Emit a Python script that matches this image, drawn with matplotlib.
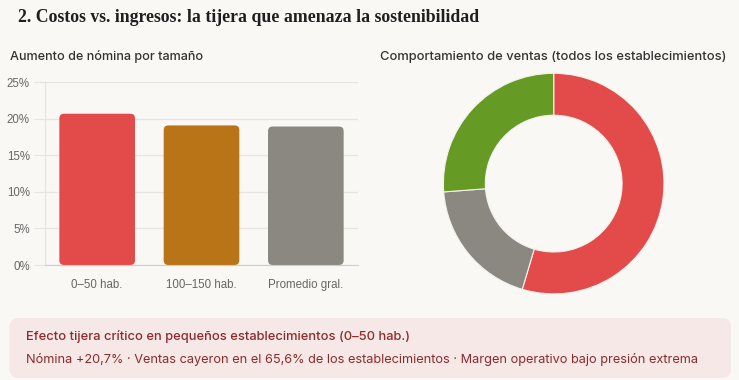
import matplotlib
matplotlib.use("Agg")
import matplotlib.pyplot as plt
from matplotlib.patches import FancyBboxPatch
from matplotlib.ticker import FuncFormatter

# Datos
categorias = ["0–50 hab.", "100–150 hab.", "Promedio gral."]
aumento_nomina = [20.7, 19.1, 18.95]
colores_barras = ["#e34b4b", "#b87417", "#8a8880"]

ventas_etiquetas = ["Bajaron", "Se mantuvieron", "Subieron"]
ventas_valores = [54.6, 19.2, 26.2]
colores_ventas = ["#e34b4b", "#8a8880", "#659a25"]

W, H = 739, 380
FONDO = "#f9f8f5"

fig = plt.figure(figsize=(W / 100, H / 100), dpi=100, facecolor=FONDO)

def px(x, y):
    return x / W, 1 - y / H

# Titulo general
fig.text(*px(18, 17), "2. Costos vs. ingresos: la tijera que amenaza la sostenibilidad",
         family="Liberation Serif", weight="bold", fontsize=12.8, color="#1f1f1f",
         va="center", ha="left")

# Subtitulos
fig.text(*px(10, 57), "Aumento de nómina por tamaño", family="Inter", weight="medium",
         fontsize=9.1, color="#333333", va="center", ha="left")
fig.text(*px(553, 57), "Comportamiento de ventas (todos los establecimientos)", family="Inter",
         weight="medium", fontsize=9.3, color="#333333", va="center", ha="center")

# Barras
ax = fig.add_axes([45 / W, 1 - 265 / H, (358 - 45) / W, (265 - 82.3) / H])
ax.set_facecolor(FONDO)
barras = ax.bar(range(len(categorias)), aumento_nomina, width=0.725, color=colores_barras)
ax.set_xlim(-0.5, 2.5)
ax.set_ylim(0, 25)
ax.set_yticks([0, 5, 10, 15, 20, 25])
ax.yaxis.set_major_formatter(FuncFormatter(lambda v, _: f"{v:.0f}%"))
ax.set_xticks(range(len(categorias)))
ax.set_xticklabels(categorias)
ax.grid(axis="y", color="#e6e4e0", linewidth=0.9)
ax.set_axisbelow(True)
for s in ["top", "right"]:
    ax.spines[s].set_visible(False)
ax.spines["left"].set_color("#e6e4e0")
ax.spines["bottom"].set_color("#cfcdc8")
ax.tick_params(axis="y", length=8, color="#e6e4e0", labelsize=8.3, labelcolor="#666666", pad=3)
ax.tick_params(axis="x", length=0, labelsize=8.3, labelcolor="#666666", pad=10)
for t in ax.get_xticklabels() + ax.get_yticklabels():
    t.set_family("Liberation Sans")

# esquinas redondeadas
asp = (25 / 182.7) / (3 / 313)
for b in barras:
    x0, y0 = b.get_x(), b.get_y()
    w, h = b.get_width(), b.get_height()
    b.set_visible(False)
    ax.add_patch(FancyBboxPatch((x0, y0), w, h,
                                boxstyle="round,pad=0,rounding_size=0.045",
                                mutation_aspect=asp, facecolor=b.get_facecolor(),
                                edgecolor="none"))

# Dona
cx, cy, r = 553.7, 183.6, 110.3
lado = 250
ax2 = fig.add_axes([(cx - lado / 2) / W, 1 - (cy + lado / 2) / H, lado / W, lado / H])
ax2.pie(ventas_valores, colors=colores_ventas, startangle=90, counterclock=False,
        radius=1, wedgeprops=dict(width=0.38, edgecolor="#f4f2ee", linewidth=0.8))
lim = lado / 2 / r
ax2.set_xlim(-lim, lim)
ax2.set_ylim(-lim, lim)
ax2.set_aspect("equal")

# Recuadro inferior
caja = FancyBboxPatch((9.5 / W, 1 - 378 / H), (731 - 9.5) / W, (378 - 318) / H,
                      boxstyle="round,pad=0,rounding_size=0.012", transform=fig.transFigure,
                      facecolor="#f5e8e7", edgecolor="none", mutation_aspect=W / H)
fig.patches.append(caja)
fig.text(*px(26, 337), "Efecto tijera crítico en pequeños establecimientos (0–50 hab.)",
         family="Inter", weight="medium", fontsize=9.3, color="#8b2c2c", va="center")
fig.text(*px(26, 359), "Nómina +20,7% · Ventas cayeron en el 65,6% de los establecimientos · "
         "Margen operativo bajo presión extrema",
         family="Inter", fontsize=9.2, color="#8b2c2c", va="center")

fig.savefig("out.png", dpi=100, facecolor=FONDO)
